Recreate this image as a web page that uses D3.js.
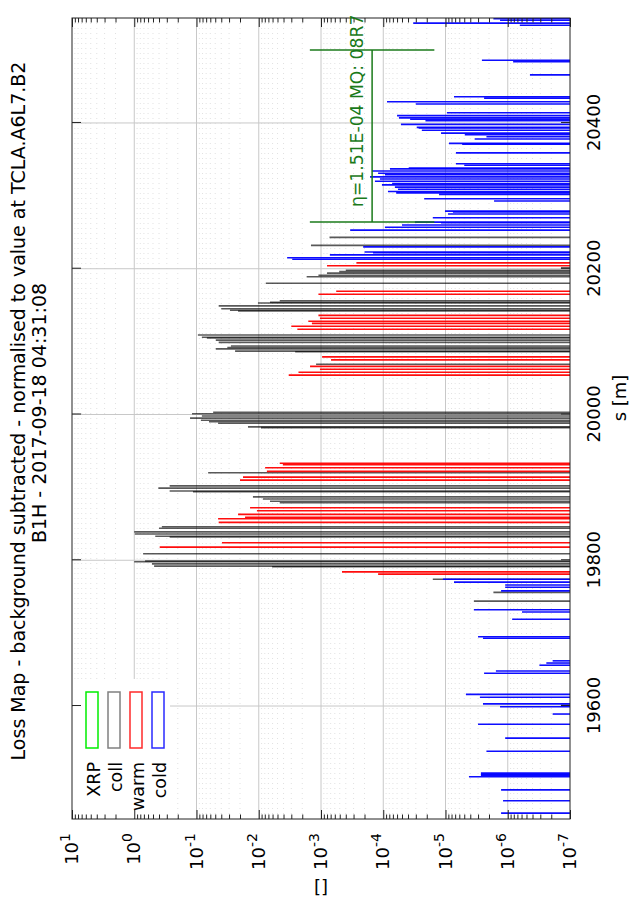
<!DOCTYPE html>
<html>
<head>
<meta charset="utf-8">
<script src="https://cdn.jsdelivr.net/npm/d3@7"></script>
<style>
  body { margin: 0; background: #fff; }
  svg { display: block; }
  text { font-family: "DejaVu Sans", sans-serif; fill: #000; }
</style>
</head>
<body>
<svg id="chart" width="638" height="910"></svg>
<script>
// ---- data (s position [m], normalised loss) ----
const sTicks = [19600, 19800, 20000, 20200, 20400];
const decades = [1, 0, -1, -2, -3, -4, -5, -6, -7];
const legendNames = ['XRP', 'coll', 'warm', 'cold'];
const legendColors = ['#00ee00', '#808080', '#ff2a2a', '#2a2aff'];

const collS = [20243, 20232, 20201, 20198, 20196, 20194, 20191, 20189, 20180, 20156, 20154, 20153,
  20149, 20145, 20143, 20142, 20109, 20106, 20105, 20102, 20099, 20094, 20092, 20090, 20087, 20086,
  20069, 20003, 20001, 19998, 19995, 19992, 19990, 19988, 19983, 19982, 19920, 19902, 19899, 19895,
  19894, 19887, 19884, 19881, 19879, 19846, 19844, 19839, 19836, 19833, 19832, 19809, 19799, 19798,
  19795, 19792, 19791, 19774, 19756, 19744, 19601];
const collV = [7.3e-4, 1.45e-3, 1.4e-7, 4.0e-4, 5.1e-4, 8.0e-4, 1.1e-3, 1.7e-3, 7.7e-3, 4.6e-3, 6.6e-3, 1.03e-2,
  4.4e-2, 4.0e-2, 2.9e-2, 2.15e-2, 9.5e-2, 8.2e-2, 6.8e-2, 4.9e-2, 4.4e-2, 2.8e-2, 3.2e-2, 4.9e-2, 2.4e-2, 2.6e-3,
  1.2e-3, 5.4e-2, 0.118, 8.2e-2, 0.127, 8.5e-2, 6.3e-2, 4.5e-2, 1.49e-2, 9.2e-3, 6.5e-2, 0.27, 0.41, 0.27,
  0.114, 1.24e-2, 8.6e-3, 6.6e-3, 4.6e-3, 0.36, 0.40, 1.0, 0.98, 0.46, 0.27, 0.72, 0.67, 1.0,
  0.52, 0.48, 6.1e-3, 1.6e-5, 1.7e-6, 3.5e-6, 1.4e-7];

const warmS = [20208, 20204, 20169, 20165, 20136, 20132, 20128, 20125, 20121, 20117, 20079, 20075,
  20066, 20062, 20058, 20054, 19933, 19931, 19927, 19922, 19914, 19910, 19872, 19868, 19863, 19859,
  19857, 19852, 19824, 19818, 19784, 19781];
const warmV = [2.7e-4, 8.0e-4, 5.7e-4, 1.1e-3, 1.1e-3, 1.04e-3, 1.6e-3, 1.4e-3, 3.0e-3, 2.4e-3, 9.6e-4, 6.9e-4,
  1.5e-3, 1.04e-3, 2.3e-3, 3.3e-3, 4.6e-3, 4.1e-3, 7.9e-3, 7.4e-3, 1.79e-2, 2.0e-2, 1.38e-2, 1.07e-2, 2.15e-2, 1.66e-2,
  4.5e-2, 4.4e-2, 3.9e-2, 0.39, 4.6e-4, 1.21e-4];

const coldS = [20543, 20541, 20537, 20534, 20486, 20484, 20466, 20436, 20434, 20429, 20426, 20414,
  20410, 20407, 20405, 20403, 20398, 20394, 20393, 20390, 20386, 20384, 20381, 20378, 20372, 20371,
  20359, 20344, 20342, 20338, 20337, 20334, 20331, 20329, 20326, 20323, 20320, 20317, 20315, 20312,
  20309, 20306, 20304, 20302, 20296, 20293, 20279, 20278, 20275, 20270, 20264, 20263, 20260, 20257,
  20253, 20230, 20223, 20222, 20219, 20215, 20213,
  19774, 19770, 19766, 19763, 19758, 19732, 19729, 19719, 19695, 19693, 19662, 19659, 19656, 19648,
  19645, 19616, 19612, 19603, 19599, 19589, 19575, 19556, 19538, 19508, 19506, 19505, 19503, 19485,
  19470, 19453];
const coldV = [1.7e-6, 1.33e-6, 3.3e-5, 6.4e-7, 2.6e-6, 8.2e-7, 4.4e-7, 7.3e-6, 2.4e-6, 8.7e-5, 3.0e-5, 9.5e-6,
  6.0e-5, 5.6e-5, 3.7e-5, 2.1e-5, 5.2e-5, 2.9e-5, 2.7e-5, 2.4e-5, 1.18e-5, 4.9e-6, 2.2e-6, 3.4e-6, 8.8e-6, 5.4e-6,
  6.8e-6, 6.8e-6, 5.0e-6, 3.9e-5, 7.8e-5, 1.52e-4, 1.21e-4, 9.4e-5, 1.63e-4, 1.13e-4, 1.36e-4, 7.2e-5, 1.05e-4, 6.5e-5,
  5.8e-5, 8.4e-5, 6.2e-5, 1.27e-5, 2.2e-5, 1.66e-6, 1.02e-5, 7.6e-6, 9.1e-6, 1.6e-5, 3.1e-5, 1.18e-5, 5.0e-5, 9.4e-5,
  3.4e-4, 2.1e-4, 2.0e-4, 1.46e-4, 7.2e-4, 3.5e-3, 2.9e-3,
  1.1e-5, 7.3e-6, 1.1e-6, 1.1e-6, 1.28e-6, 3.5e-6, 5.9e-7, 8.5e-7, 3.0e-6, 2.5e-6, 1.9e-7, 2.4e-7, 3.1e-7, 1.55e-6,
  2.4e-6, 4.7e-6, 2.8e-6, 2.5e-6, 1.33e-6, 1.9e-7, 3.0e-6, 1.1e-6, 2.2e-6, 2.7e-6, 2.7e-6, 2.7e-6, 4.2e-6, 1.28e-6,
  1.19e-6, 1.28e-6];

// highest cold-magnet loss marker
const etaS = [20264, 20500];
const etaV = 1.51e-4;
const etaLabel = 'η=1.51E-04 MQ: 08R7';

// ---- layout (drawn as a landscape plot, then turned -90deg) ----
const W = 910, H = 638;
const svg = d3.select('#chart');
const g = svg.append('g').attr('transform', `translate(0,${W}) rotate(-90)`);

const x = d3.scaleLinear().domain([19445, 20544]).range([91, 892]);
const y = d3.scaleLog().domain([10, 1e-7]).range([72, 570]);
const [x0, x1] = x.range();
const [y0, y1] = y.range();

const minorVals = [];
decades.slice(1).forEach(e => {
  for (let k = 2; k <= 9; k++) minorVals.push(k * Math.pow(10, e));
});

// grid
const grid = g.append('g');
grid.selectAll('.gminor').data(minorVals).join('line')
  .attr('x1', x0).attr('x2', x1)
  .attr('y1', d => y(d)).attr('y2', d => y(d))
  .attr('stroke', '#d4d4d4').attr('stroke-width', 0.7).attr('stroke-dasharray', '1,4');
grid.selectAll('.gmajor').data(decades.slice(1, -1)).join('line')
  .attr('x1', x0).attr('x2', x1)
  .attr('y1', d => y(Math.pow(10, d))).attr('y2', d => y(Math.pow(10, d)))
  .attr('stroke', '#c8c8c8').attr('stroke-width', 1);
grid.selectAll('.gs').data(sTicks).join('line')
  .attr('x1', d => x(d)).attr('x2', d => x(d))
  .attr('y1', y0).attr('y2', y1)
  .attr('stroke', '#c8c8c8').attr('stroke-width', 1);

// loss bars
function bars(sArr, vArr, color, opacity) {
  g.append('g').selectAll('line').data(sArr).join('line')
    .attr('x1', d => x(d)).attr('x2', d => x(d))
    .attr('y1', y1).attr('y2', (d, i) => y(vArr[i]))
    .attr('stroke', color).attr('stroke-opacity', opacity).attr('stroke-width', 1.6);
}
bars(collS, collV, '#000000', 0.65);
bars(warmS, warmV, '#ff0000', 0.95);
bars(coldS, coldV, '#0000ff', 0.95);

// legend (opaque key box)
g.append('rect').attr('x', x0 + 1).attr('y', y0 + 1).attr('width', 139).attr('height', 97).attr('fill', '#fff');
const key = g.append('g');
legendNames.forEach((name, i) => {
  const base = 100 + i * 22;
  key.append('text').attr('x', 148).attr('y', base)
    .attr('text-anchor', 'end').attr('font-size', 17.5).text(name);
  key.append('rect').attr('x', 162).attr('y', base - 14).attr('width', 56).attr('height', 12)
    .attr('fill', 'none').attr('stroke', legendColors[i]).attr('stroke-width', 1.5);
});

// axes ticks (inward) + mirror
const tickCol = '#222';
function styleAxis(sel) {
  sel.select('.domain').remove();
  sel.selectAll('.tick line').attr('stroke', tickCol);
}
g.append('g').attr('transform', `translate(${x0},0)`)
  .call(d3.axisLeft(y).tickValues(decades.map(e => Math.pow(10, e))).tickSize(-9).tickFormat(''))
  .call(styleAxis);
g.append('g').attr('transform', `translate(${x0},0)`)
  .call(d3.axisLeft(y).tickValues(minorVals).tickSize(-4.5).tickFormat(''))
  .call(styleAxis);
g.append('g').attr('transform', `translate(${x1},0)`)
  .call(d3.axisRight(y).tickValues(decades.map(e => Math.pow(10, e))).tickSize(-9).tickFormat(''))
  .call(styleAxis);
g.append('g').attr('transform', `translate(${x1},0)`)
  .call(d3.axisRight(y).tickValues(minorVals).tickSize(-4.5).tickFormat(''))
  .call(styleAxis);

const sAxis = g.append('g').attr('transform', `translate(0,${y1})`)
  .call(d3.axisBottom(x).tickValues(sTicks).tickSize(-9).tickPadding(17).tickFormat(d3.format('d')))
  .call(styleAxis);
sAxis.selectAll('text').attr('font-size', 18).attr('font-family', '"DejaVu Sans", sans-serif').attr('fill', '#000');
g.append('g').attr('transform', `translate(0,${y0})`)
  .call(d3.axisTop(x).tickValues(sTicks).tickSize(-9).tickFormat(''))
  .call(styleAxis);

// log tick labels 10^n
decades.forEach(e => {
  const t = g.append('text').attr('x', 77).attr('y', y(Math.pow(10, e)) + 6)
    .attr('text-anchor', 'end').attr('font-size', 18);
  t.append('tspan').text('10');
  t.append('tspan').attr('dy', -8).attr('font-size', 14).text(e);
});

// frame
g.append('rect').attr('x', x0).attr('y', y0).attr('width', x1 - x0).attr('height', y1 - y0)
  .attr('fill', 'none').attr('stroke', '#222').attr('stroke-width', 1);

// titles
g.append('text').attr('x', 499).attr('y', 25).attr('text-anchor', 'middle').attr('font-size', 19)
  .text('Loss Map - background subtracted - normalised to value at TCLA.A6L7.B2');
g.append('text').attr('x', 497).attr('y', 46).attr('text-anchor', 'middle').attr('font-size', 19)
  .text('B1H - 2017-09-18 04:31:08');
g.append('text').attr('x', 512).attr('y', 626).attr('text-anchor', 'middle').attr('font-size', 18)
  .text('s [m]');

// eta marker
const green = '#1a7a1a';
const ann = g.append('g').attr('stroke', green).attr('stroke-width', 1.5);
ann.append('line').attr('x1', x(etaS[0])).attr('x2', x(etaS[1])).attr('y1', y(etaV)).attr('y2', y(etaV));
etaS.forEach(s => {
  ann.append('line').attr('x1', x(s)).attr('x2', x(s))
    .attr('y1', y(etaV * 10)).attr('y2', y(etaV / 10));
});
// kept just inside the top edge so the whole label stays readable
g.append('text').attr('x', 703).attr('y', 363).attr('font-size', 17.2)
  .style('fill', green).text(etaLabel);

// y-axis unit label (screen coordinates)
svg.append('text').attr('x', 321).attr('y', 893).attr('text-anchor', 'middle').attr('font-size', 18).text('[]');
</script>
</body>
</html>
